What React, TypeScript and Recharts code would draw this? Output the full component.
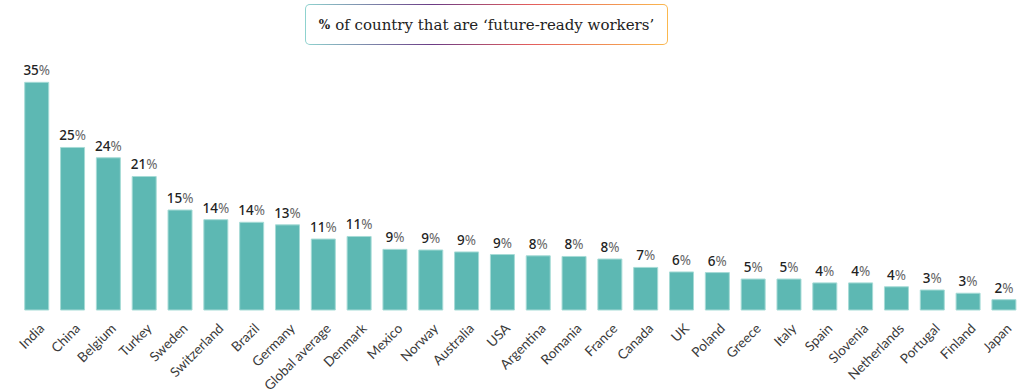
import { Bar, BarChart, LabelList, XAxis, YAxis } from "recharts";

const countries = [
  "India", "China", "Belgium", "Turkey", "Sweden", "Switzerland", "Brazil",
  "Germany", "Global average", "Denmark", "Mexico", "Norway", "Australia", "USA",
  "Argentina", "Romania", "France", "Canada", "UK", "Poland", "Greece", "Italy",
  "Spain", "Slovenia", "Netherlands", "Portugal", "Finland", "Japan",
];

// bar heights as drawn (unrounded)
const shares = [
  35.3, 25.2, 23.6, 20.7, 15.5, 14.0, 13.6, 13.2, 11.0, 11.4, 9.4, 9.3, 9.0, 8.6,
  8.4, 8.3, 7.9, 6.6, 5.9, 5.8, 4.8, 4.8, 4.2, 4.2, 3.6, 3.1, 2.6, 1.6,
];

// labels printed above the bars
const shownLabels = [
  35, 25, 24, 21, 15, 14, 14, 13, 11, 11, 9, 9, 9, 9,
  8, 8, 8, 7, 6, 6, 5, 5, 4, 4, 4, 3, 3, 2,
];

const yDomain = [0, 40];

const rows = countries.map((name, i) => ({
  name,
  share: shares[i],
  label: shownLabels[i],
}));

const TEAL = "#5db8b3";

function CountryTick(props: any) {
  const { x, y, payload } = props;
  return (
    <g transform={`translate(${x + 5},${y + 8}) rotate(-45)`}>
      <text
        x={0}
        y={0}
        dy="0.35em"
        textAnchor="end"
        fontFamily="Lato, sans-serif"
        fontSize={13.5}
        fill="#3a3a3a"
      >
        {payload.value}
      </text>
    </g>
  );
}

function ValueLabel(props: any) {
  const { x, y, width, index } = props;
  return (
    <text
      x={x + width / 2}
      y={y - 7}
      textAnchor="middle"
      fontFamily="'Noto Sans', sans-serif"
      fontSize={13.5}
      fill="#222"
    >
      <tspan fontWeight={500}>{rows[index].label}</tspan>
      <tspan fill="#666">%</tspan>
    </text>
  );
}

export default function App() {
  return (
    <div
      style={{
        position: "absolute",
        left: 0,
        top: 0,
        width: 1024,
        height: 392,
        background: "#fff",
      }}
    >
      <div
        style={{
          position: "absolute",
          left: 305,
          top: 4,
          width: 363,
          height: 41,
          boxSizing: "border-box",
          border: "1.5px solid transparent",
          borderRadius: 5,
          background:
            "linear-gradient(#fff, #fff) padding-box, linear-gradient(to right, #8fd3cf 0%, #6b3c86 35%, #e35d5d 62%, #fbb84e 100%) border-box",
          display: "flex",
          alignItems: "center",
          justifyContent: "center",
          fontFamily: "'DejaVu Serif', serif",
          fontSize: 15,
          color: "#222",
          whiteSpace: "nowrap",
        }}
      >
        <span style={{ fontWeight: 700, fontSize: 12, marginRight: 5 }}>%</span>
        of country that are ‘future-ready workers’
      </div>
      <BarChart
        width={1024}
        height={392}
        data={rows}
        margin={{ top: 52, right: 2, bottom: 0, left: 19 }}
        barCategoryGap="16%"
      >
        <XAxis
          dataKey="name"
          axisLine={false}
          tickLine={false}
          interval={0}
          height={82}
          tick={<CountryTick />}
        />
        <YAxis hide domain={yDomain} />
        <Bar
          dataKey="share"
          fill={TEAL}
          stroke="#a6dbd6"
          strokeWidth={1}
          isAnimationActive={false}
        >
          <LabelList dataKey="label" content={<ValueLabel />} />
        </Bar>
      </BarChart>
    </div>
  );
}
